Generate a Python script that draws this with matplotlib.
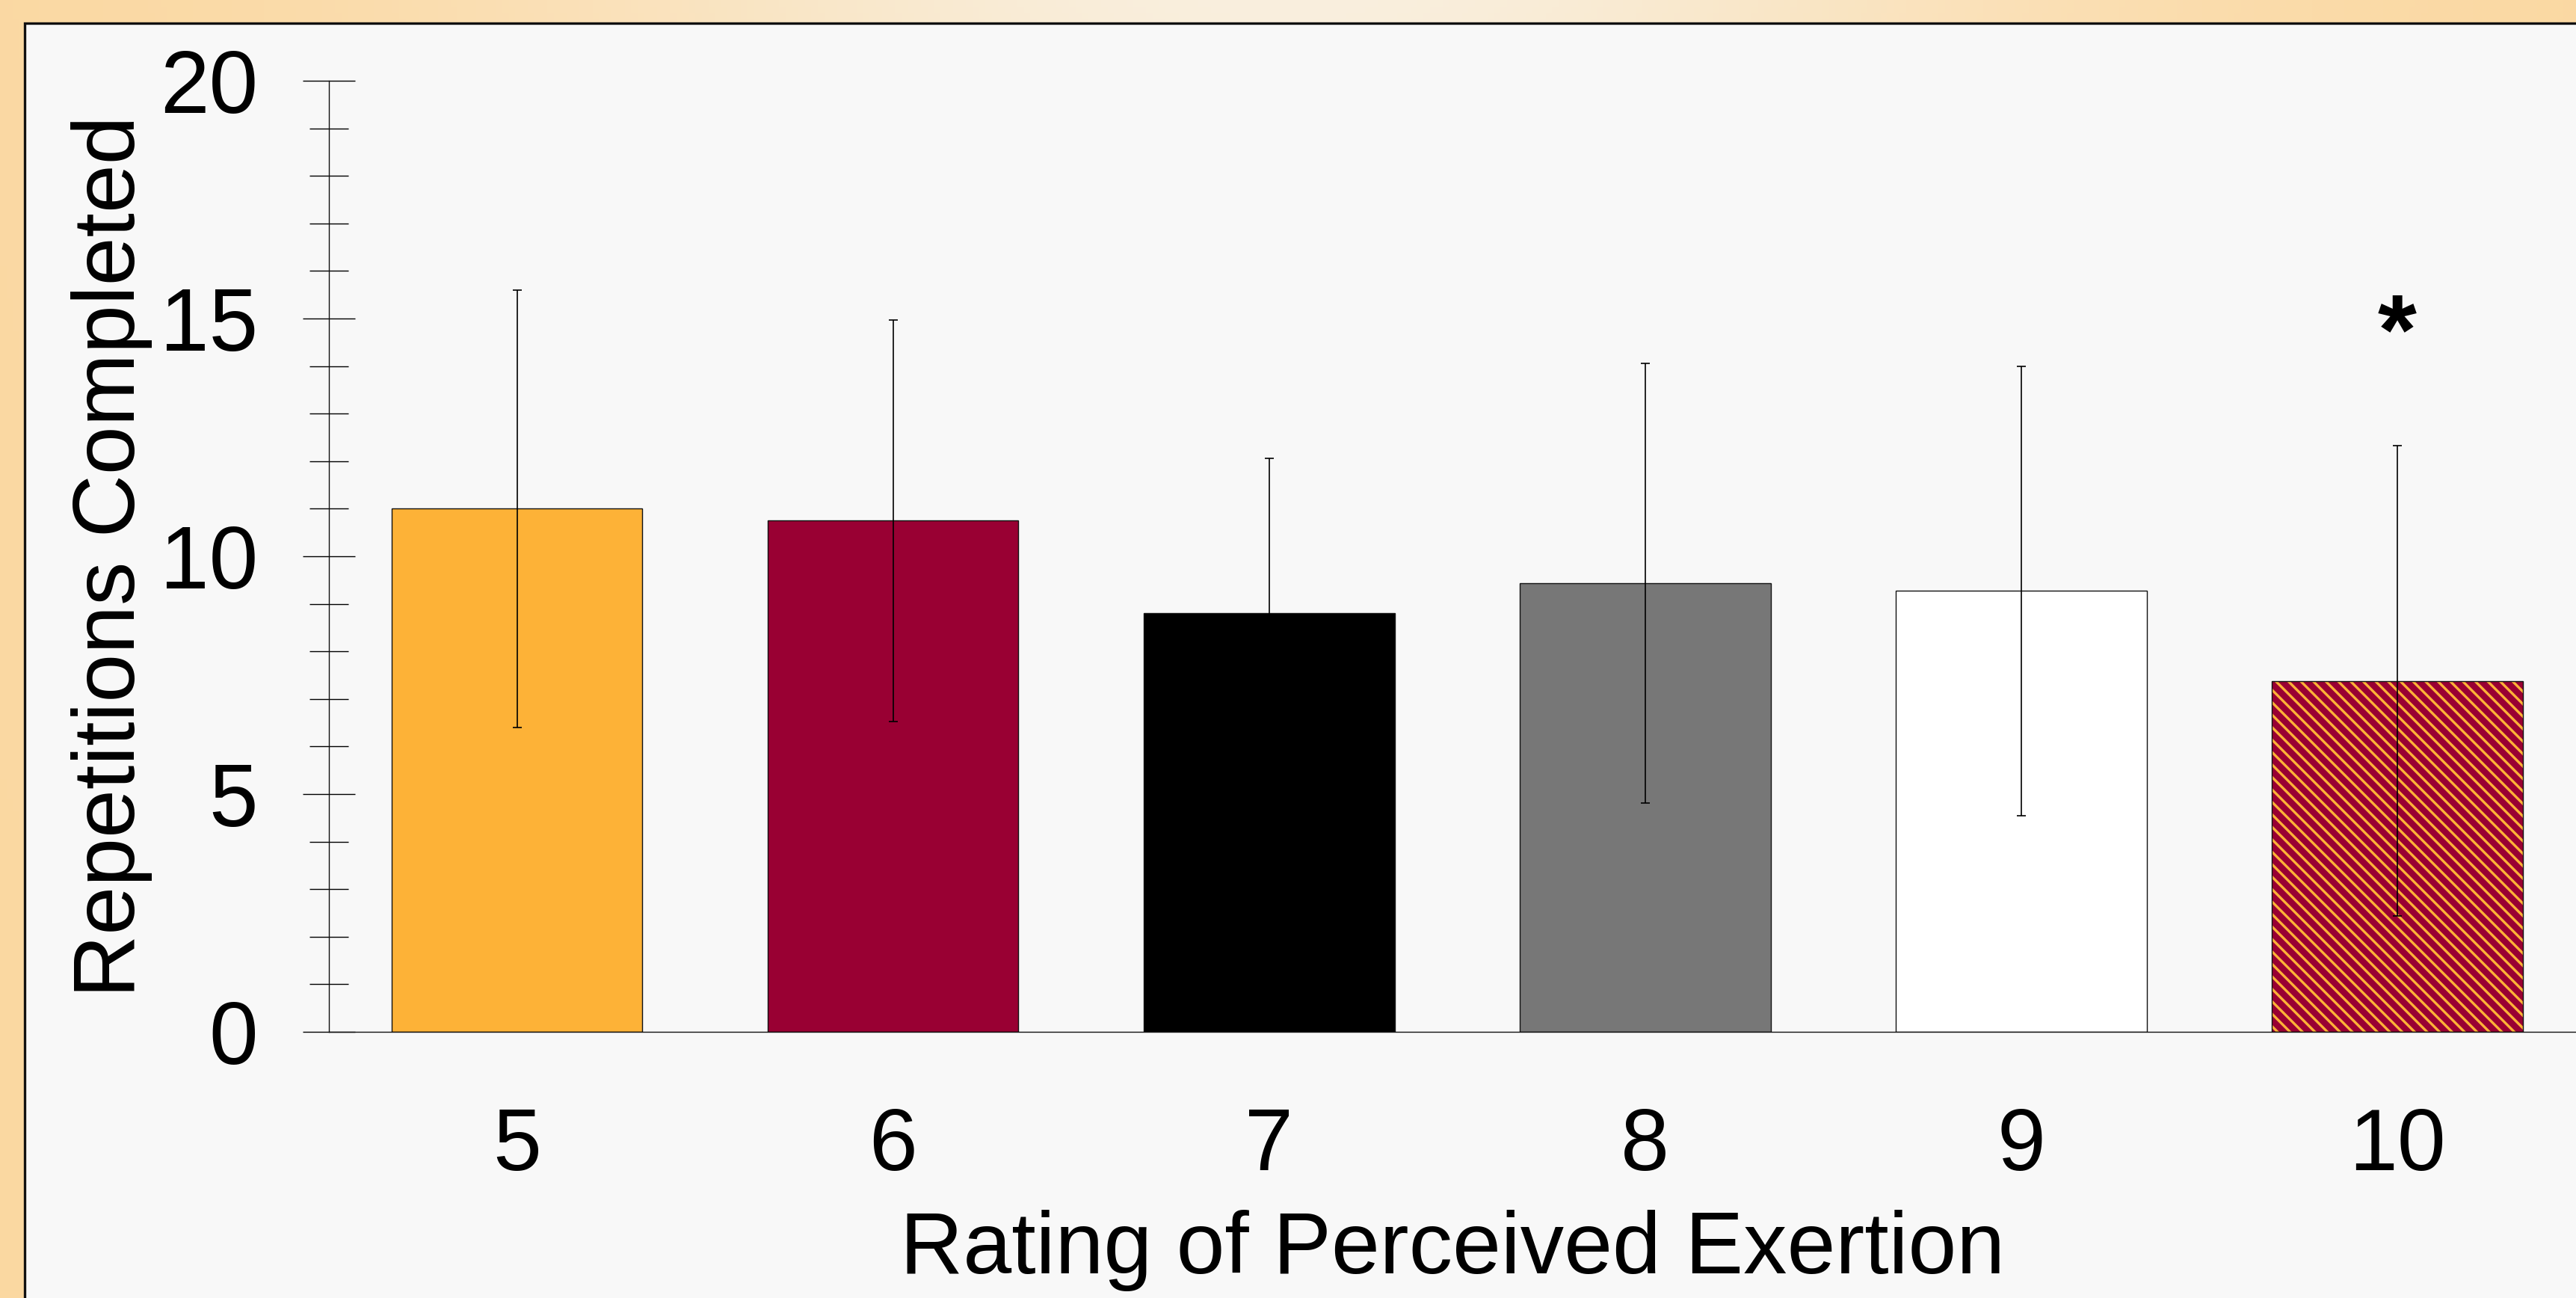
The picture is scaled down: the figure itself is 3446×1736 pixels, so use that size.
import numpy as np
import matplotlib
matplotlib.use("Agg")
import matplotlib.pyplot as plt
from matplotlib.patches import Rectangle
from matplotlib.ticker import MultipleLocator

plt.rcParams['font.family'] = ['Liberation Sans', 'DejaVu Sans']
plt.rcParams['hatch.linewidth'] = 2.4

# ---- data ----
categories = ['5', '6', '7', '8', '9', '10']
means = [11.0, 10.75, 8.81, 9.43, 9.27, 7.38]
sds = [4.6, 4.22, 3.25, 4.62, 4.72, 4.94]
bar_colors = ['#FDB237', '#990033', '#000000', '#777777', '#FFFFFF', '#990033']
hatches = [None, None, None, None, None, '\\\\']
sig_marks = ['', '', '', '', '', '*']
y_ticks = [0, 5, 10, 15, 20]
xlabel = 'Rating of Perceived Exertion'
ylabel = 'Repetitions Completed'

W, H = 3446, 1736
fig = plt.figure(figsize=(W / 100, H / 100), dpi=100)

# ---- background gradient + panel ----
bg = fig.add_axes([0, 0, 1, 1], zorder=-2)
xs = np.linspace(0, 1, 400)
ys = np.linspace(0, 1, 200)
X, Y = np.meshgrid(xs, ys)
edge = np.array([251, 216, 161]) / 255
light = np.array([249, 239, 222]) / 255
f = np.exp(-((X - 0.5) / 0.28) ** 2) * np.clip(Y, 0, 1)
img = edge[None, None, :] * (1 - f[..., None]) + light[None, None, :] * f[..., None]
bg.imshow(img, extent=[0, 1, 0, 1], origin='lower', aspect='auto')
px0 = 33 / W
py1 = 1 - 31 / H
bg.add_patch(Rectangle((px0, -0.1), 1.2, py1 + 0.1, facecolor='#F8F8F8',
                       edgecolor='#111111', linewidth=2.4))
bg.set_xlim(0, 1)
bg.set_ylim(0, 1)
bg.axis('off')

# ---- main axes ----
ax = fig.add_axes([440 / W, 356 / H, 1 - 440 / W, 1272 / H])
ax.set_facecolor('none')
x = np.arange(len(categories))
bw = 0.667
for i in range(len(categories)):
    if hatches[i]:
        ax.bar(x[i], means[i], width=bw, color=bar_colors[i], edgecolor='#FDB237',
               hatch=hatches[i], linewidth=0, zorder=2)
        ax.bar(x[i], means[i], width=bw, color='none', edgecolor='#111111',
               linewidth=1.0, zorder=2.1)
    else:
        ax.bar(x[i], means[i], width=bw, color=bar_colors[i], edgecolor='#111111',
               linewidth=1.0, zorder=2)
ax.errorbar(x, means, yerr=sds, fmt='none', ecolor='black', elinewidth=1.2,
            capsize=4.5, capthick=1.2, zorder=3)
for i, m in enumerate(sig_marks):
    if m:
        ax.text(x[i], 14.6, m, ha='center', va='center', fontsize=96,
                fontweight='bold', zorder=4)

ax.set_xlim(-0.5, 5.475)
ax.set_ylim(0, 20)
ax.set_xticks(x)
ax.set_xticklabels(categories, fontsize=84)
ax.set_yticks(y_ticks)
ax.set_yticklabels([str(t) for t in y_ticks], fontsize=85)
ax.yaxis.set_minor_locator(MultipleLocator(1))
ax.tick_params(axis='x', length=0, pad=72)
ax.tick_params(axis='y', which='major', direction='inout', length=51, width=1.0, pad=43)
ax.tick_params(axis='y', which='minor', direction='inout', length=38, width=1.0)
for s in ['top', 'right']:
    ax.spines[s].set_visible(False)
for s in ['left', 'bottom']:
    ax.spines[s].set_linewidth(1.0)
    ax.spines[s].set_color('#111111')

fig.text((440 + W) / 2 / W, 33 / H, xlabel, ha='center', va='baseline', fontsize=84)
fig.text(180 / W, 1 - 744 / H, ylabel, rotation=90, rotation_mode='anchor',
         ha='center', va='baseline', fontsize=84)

fig.savefig('out.png', dpi=100)
